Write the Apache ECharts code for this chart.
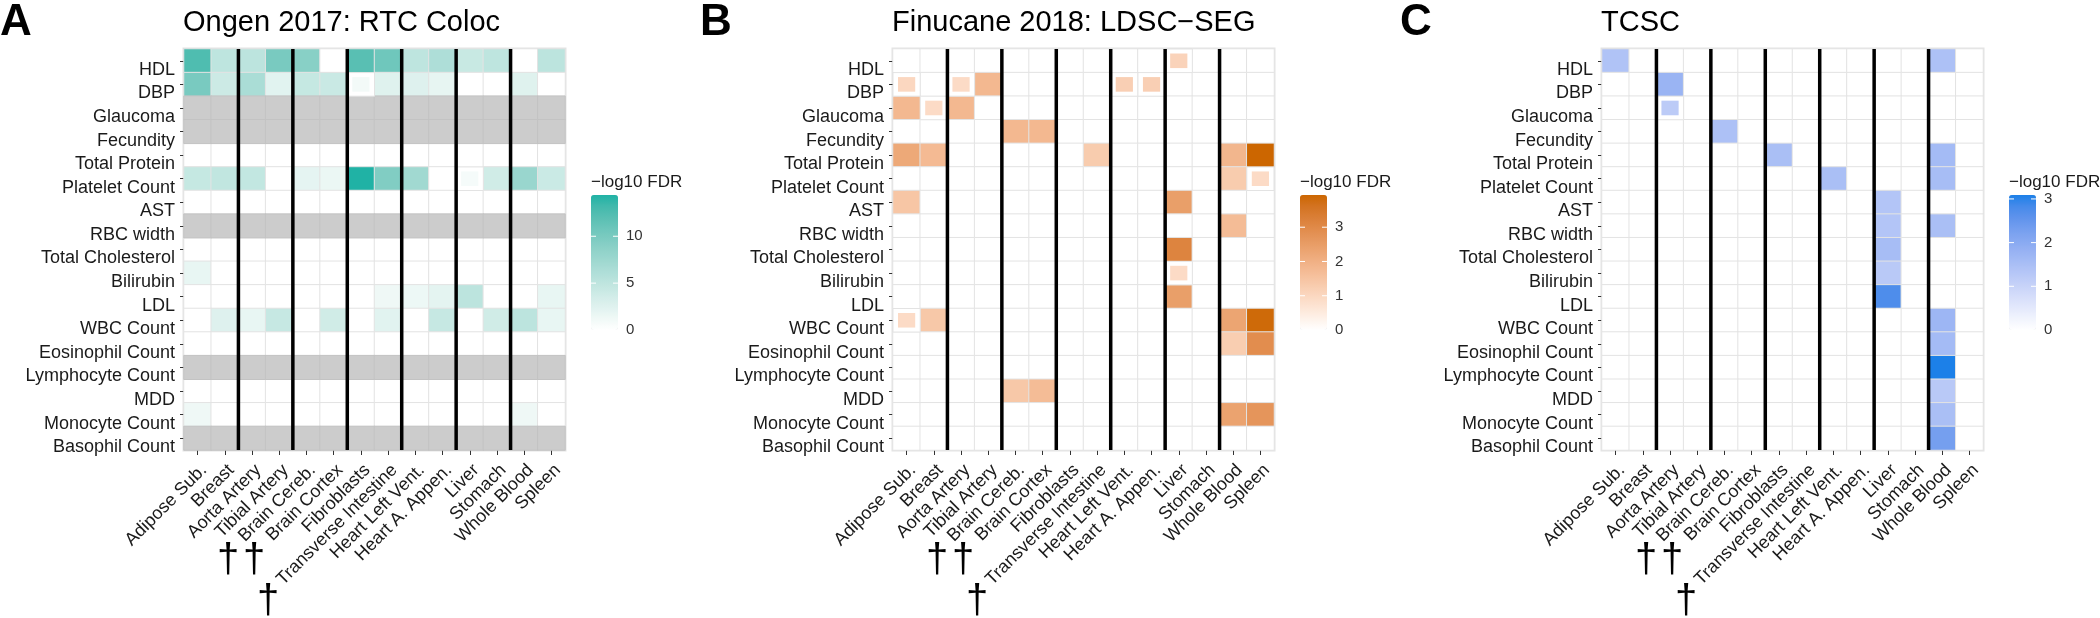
<!DOCTYPE html>
<html><head><meta charset="utf-8">
<script src="https://cdn.jsdelivr.net/npm/echarts@6/dist/echarts.min.js"></script>
<style>html,body{margin:0;padding:0;background:#fff}#c{width:2100px;height:618px}</style>
</head><body><div id="c"></div>
<script>
// ---------------- DATA ----------------
const tissues = ['Adipose Sub.','Breast','Aorta Artery','Tibial Artery','Brain Cereb.','Brain Cortex','Fibroblasts','Transverse Intestine','Heart Left Vent.','Heart A. Appen.','Liver','Stomach','Whole Blood','Spleen'];
const traits = ['HDL','DBP','Glaucoma','Fecundity','Total Protein','Platelet Count','AST','RBC width','Total Cholesterol','Bilirubin','LDL','WBC Count','Eosinophil Count','Lymphocyte Count','MDD','Monocyte Count','Basophil Count'];
const groupStarts = ['Aorta Artery','Brain Cereb.','Fibroblasts','Heart Left Vent.','Liver','Whole Blood'];
const N = null;
// Panel A: Ongen 2017 RTC Coloc (-log10 FDR), null = not available (grey)
const ongenRTC = [
  [12.5,5,5.2,10,9,0,12,10.7,5,6.2,4.3,5,0,5.2],      // HDL
  [10,4,6.5,2.3,4.5,4.2,1,2.5,2.6,1.9,0,0,2.5,0],      // DBP
  [N,N,N,N,N,N,N,N,N,N,N,N,N,N],                       // Glaucoma
  [N,N,N,N,N,N,N,N,N,N,N,N,N,N],                       // Fecundity
  [0,0,0,0,0,0,0,0,0,0,0,0,0,0],                       // Total Protein
  [4.5,4.8,4.7,0,2,1.6,14.4,9.5,7.2,0,0.8,3.7,7.8,4.1],// Platelet Count
  [0,0,0,0,0,0,0,0,0,0,0,0,0,0],                       // AST
  [N,N,N,N,N,N,N,N,N,N,N,N,N,N],                       // RBC width
  [0,0,0,0,0,0,0,0,0,0,0,0,0,0],                       // Total Cholesterol
  [1.8,0,0,0,0,0,0,0,0,0,0,0,0,0],                     // Bilirubin
  [0,0,0,0,0,0,0,1.3,1.4,2.1,5.2,0,0,1.8],             // LDL
  [0,2.6,1.8,4.4,0,3.7,0,2.3,0,4.4,0,3.7,5.2,1.8],     // WBC Count
  [0,0,0,0,0,0,0,0,0,0,0,0,0,0],                       // Eosinophil Count
  [N,N,N,N,N,N,N,N,N,N,N,N,N,N],                       // Lymphocyte Count
  [0,0,0,0,0,0,0,0,0,0,0,0,0,0],                       // MDD
  [1.3,0,0,0,0,0,0,0,0,0,0,0,1.3,0],                   // Monocyte Count
  [N,N,N,N,N,N,N,N,N,N,N,N,N,N]                        // Basophil Count
];
const ongenSmall = [['DBP','Fibroblasts'],['Platelet Count','Liver']];
// Panel B: Finucane 2018 LDSC-SEG
const finucaneLDSC = [
  [0,0,0,0,0,0,0,0,0,0,1.1,0,0,0],                     // HDL
  [1.0,0,0.9,1.8,0,0,0,0,1.2,1.2,0,0,0,0],             // DBP
  [1.8,0.9,1.8,0,0,0,0,0,0,0,0,0,0,0],                 // Glaucoma
  [0,0,0,0,1.8,1.8,0,0,0,0,0,0,0,0],                   // Fecundity
  [2.2,1.75,0,0,0,0,0,1.3,0,0,0,0,1.85,3.94],          // Total Protein
  [0,0,0,0,0,0,0,0,0,0,0,0,1.3,0.9],                   // Platelet Count
  [1.45,0,0,0,0,0,0,0,0,0,2.45,0,0,0],                 // AST
  [0,0,0,0,0,0,0,0,0,0,0,0,1.7,0],                     // RBC width
  [0,0,0,0,0,0,0,0,0,0,3.15,0,0,0],                    // Total Cholesterol
  [0,0,0,0,0,0,0,0,0,0,0.9,0,0,0],                     // Bilirubin
  [0,0,0,0,0,0,0,0,0,0,2.45,0,0,0],                    // LDL
  [0.9,1.4,0,0,0,0,0,0,0,0,0,0,2.3,3.85],              // WBC Count
  [0,0,0,0,0,0,0,0,0,0,0,0,1.25,2.9],                  // Eosinophil Count
  [0,0,0,0,0,0,0,0,0,0,0,0,0,0],                       // Lymphocyte Count
  [0,0,0,0,1.4,1.7,0,0,0,0,0,0,0,0],                   // MDD
  [0,0,0,0,0,0,0,0,0,0,0,0,2.35,2.7],                  // Monocyte Count
  [0,0,0,0,0,0,0,0,0,0,0,0,0,0]                        // Basophil Count
];
const finucaneSmall = [['HDL','Liver'],['DBP','Adipose Sub.'],['DBP','Aorta Artery'],['DBP','Heart Left Vent.'],['DBP','Heart A. Appen.'],['Glaucoma','Breast'],['Platelet Count','Spleen'],['Bilirubin','Liver'],['WBC Count','Adipose Sub.']];
// Panel C: TCSC
const tcsc = [
  [1.4,0,0,0,0,0,0,0,0,0,0,0,1.45,0],                  // HDL
  [0,0,1.75,0,0,0,0,0,0,0,0,0,0,0],                    // DBP
  [0,0,1.2,0,0,0,0,0,0,0,0,0,0,0],                     // Glaucoma
  [0,0,0,0,1.45,0,0,0,0,0,0,0,0,0],                    // Fecundity
  [0,0,0,0,0,0,1.5,0,0,0,0,0,1.6,0],                   // Total Protein
  [0,0,0,0,0,0,0,0,1.5,0,0,0,1.55,0],                  // Platelet Count
  [0,0,0,0,0,0,0,0,0,0,1.35,0,0,0],                    // AST
  [0,0,0,0,0,0,0,0,0,0,1.35,0,1.5,0],                  // RBC width
  [0,0,0,0,0,0,0,0,0,0,1.55,0,0,0],                    // Total Cholesterol
  [0,0,0,0,0,0,0,0,0,0,1.25,0,0,0],                    // Bilirubin
  [0,0,0,0,0,0,0,0,0,0,2.75,0,0,0],                    // LDL
  [0,0,0,0,0,0,0,0,0,0,0,0,1.7,0],                     // WBC Count
  [0,0,0,0,0,0,0,0,0,0,0,0,1.6,0],                     // Eosinophil Count
  [0,0,0,0,0,0,0,0,0,0,0,0,3.09,0],                    // Lymphocyte Count
  [0,0,0,0,0,0,0,0,0,0,0,0,1.25,0],                    // MDD
  [0,0,0,0,0,0,0,0,0,0,0,0,1.5,0],                     // Monocyte Count
  [0,0,0,0,0,0,0,0,0,0,0,0,2.3,0]                      // Basophil Count
];
const tcscSmall = [['Glaucoma','Aorta Artery']];
const ticksA = [0,5,10];
const ticksB = [0,1,2,3];
const ticksC = [0,1,2,3];
const legendTitle = '\u2212log10 FDR';

// ---------------- STYLE / LAYOUT ----------------
const FONT = '"Liberation Sans", Arial, Helvetica, sans-serif';
const panels = [
  {letter:'A', title:'Ongen 2017: RTC Coloc', data:ongenRTC, small:ongenSmall, high:'#20b2a5', ticks:ticksA, gridLeft:184, letterX:0},
  {letter:'B', title:'Finucane 2018: LDSC\u2212SEG', data:finucaneLDSC, small:finucaneSmall, high:'#cc6600', ticks:ticksB, gridLeft:893, letterX:700},
  {letter:'C', title:'TCSC', data:tcsc, small:tcscSmall, high:'#1c80e8', ticks:ticksC, gridLeft:1602, letterX:1400}
];
const GRID_TOP = 49, GRID_W = 381, GRID_H = 401;
const BAR_TOP = 195, BAR_W = 27, BAR_H = 135;

// Lab interpolation (like ggplot's gradient)
function hex2rgb(h){return [parseInt(h.slice(1,3),16),parseInt(h.slice(3,5),16),parseInt(h.slice(5,7),16)];}
function s2l(c){c/=255;return c<=0.04045?c/12.92:Math.pow((c+0.055)/1.055,2.4);}
function l2s(c){c=c<=0.0031308?12.92*c:1.055*Math.pow(c,1/2.4)-0.055;return Math.round(Math.max(0,Math.min(1,c))*255);}
function rgb2lab(rgb){const r=s2l(rgb[0]),g=s2l(rgb[1]),b=s2l(rgb[2]);
  const x=(0.4124564*r+0.3575761*g+0.1804375*b)/0.95047,y=0.2126729*r+0.7151522*g+0.0721750*b,z=(0.0193339*r+0.1191920*g+0.9503041*b)/1.08883;
  const f=t=>t>0.008856?Math.cbrt(t):7.787*t+16/116;const fx=f(x),fy=f(y),fz=f(z);
  return [116*fy-16,500*(fx-fy),200*(fy-fz)];}
function lab2rgb(lab){const fy=(lab[0]+16)/116,fx=fy+lab[1]/500,fz=fy-lab[2]/200;
  const fi=t=>t*t*t>0.008856?t*t*t:(t-16/116)/7.787;
  const x=fi(fx)*0.95047,y=fi(fy),z=fi(fz)*1.08883;
  const r=3.2404542*x-1.5371385*y-0.4985314*z,g=-0.9692660*x+1.8760108*y+0.0415560*z,b=0.0556434*x-0.2040259*y+1.0572252*z;
  return 'rgb('+l2s(r)+','+l2s(g)+','+l2s(b)+')';}
function labRamp(hex,n){const a=rgb2lab([255,255,255]),b=rgb2lab(hex2rgb(hex));const out=[];
  for(let i=0;i<n;i++){const t=i/(n-1);out.push(lab2rgb([a[0]+(b[0]-a[0])*t,a[1]+(b[1]-a[1])*t,a[2]+(b[2]-a[2])*t]));}return out;}

const chart = echarts.init(document.getElementById('c'), null, {renderer:'canvas'});
const grids=[], xAxes=[], yAxes=[], series=[], visualMaps=[], graphics=[];

panels.forEach((p,i)=>{
  const smallKey = new Set(p.small.map(s=>s[0]+'|'+s[1]));
  const main=[], na=[], sm=[];
  let max=0;
  p.data.forEach((row,r)=>row.forEach((v,c)=>{
    if(v===null){na.push([c,r,0]);return;}
    if(v>max)max=v;
    if(smallKey.has(traits[r]+'|'+tissues[c])) sm.push([c,r,v]); else main.push([c,r,v]);
  }));
  grids.push({left:p.gridLeft, top:GRID_TOP, width:GRID_W, height:GRID_H, show:true, borderColor:'#e4e4e4', borderWidth:3, backgroundColor:'#fff', containLabel:false});
  xAxes.push({type:'category', gridIndex:i, data:tissues, position:'bottom',
    axisLine:{show:false}, splitLine:{show:false},
    axisTick:{show:true, alignWithLabel:true, length:5, lineStyle:{color:'#333', width:1}},
    axisLabel:{interval:0, rotate:45, fontSize:18, color:'#1a1a1a', fontFamily:FONT, margin:11, align:'right', verticalAlign:'top'}});
  yAxes.push({type:'category', gridIndex:i, data:traits, inverse:true,
    axisLine:{show:false}, splitLine:{show:false},
    axisTick:{show:true, alignWithLabel:true, length:4, lineStyle:{color:'#333', width:1}},
    axisLabel:{interval:0, fontSize:18, color:'#1a1a1a', fontFamily:FONT, margin:9, verticalAlign:'top'}});
  const base = series.length;
  series.push({type:'heatmap', xAxisIndex:i, yAxisIndex:i, data:main, progressive:0, z:2,
    itemStyle:{borderColor:'#e3e3e3', borderWidth:1}, emphasis:{disabled:true}});
  series.push({type:'heatmap', xAxisIndex:i, yAxisIndex:i, data:na, progressive:0, z:2,
    itemStyle:{color:'#cccccc', borderColor:'#c3c3c3', borderWidth:1}, emphasis:{disabled:true}});
  series.push({type:'custom', xAxisIndex:i, yAxisIndex:i, data:sm, z:3, encode:{x:0,y:1},
    renderItem:function(params,api){
      const c=api.coord([api.value(0),api.value(1)]), s=api.size([1,1]);
      const x0=c[0]-s[0]/2, y0=c[1]-s[1]/2;
      return {type:'group', children:[
        {type:'rect', shape:{x:x0,y:y0,width:s[0],height:s[1]}, style:{fill:'#fff', stroke:'#e3e3e3', lineWidth:1}},
        {type:'rect', shape:{x:x0+5,y:y0+4.5,width:s[0]-10,height:s[1]-9}, style:{fill:api.visual('color')}}
      ]};
    }});
  series.push({type:'custom', xAxisIndex:i, yAxisIndex:i, data:groupStarts.map(t=>[tissues.indexOf(t),0]), z:5, encode:{x:0,y:1}, silent:true,
    renderItem:function(params,api){
      const x=api.coord([api.value(0),0])[0]-api.size([1,0])[0]/2;
      const cs=params.coordSys;
      return {type:'line', shape:{x1:x,y1:cs.y,x2:x,y2:cs.y+cs.height}, style:{stroke:'#000', lineWidth:3.5}};
    }});
  const legLeft = p.gridLeft + 407;
  visualMaps.push({type:'continuous', seriesIndex:[base, base+2], dimension:2, min:0, max:max,
    inRange:{color:labRamp(p.high, 13)}, calculable:false, show:true, left:legLeft, top:BAR_TOP,
    itemWidth:BAR_W, itemHeight:BAR_H, padding:0, text:null});
  // legend title & ticks
  graphics.push({type:'text', left:legLeft, top:174, style:{text:legendTitle, font:'17px '+FONT, fill:'#1a1a1a'}});
  p.ticks.forEach(v=>{
    const y = BAR_TOP + BAR_H*(1 - v/max);
    graphics.push({type:'text', x:legLeft+BAR_W+8, y:y, style:{text:String(v), font:'15px '+FONT, fill:'#333', textVerticalAlign:'middle'}});
    graphics.push({type:'line', shape:{x1:legLeft, y1:y, x2:legLeft+5, y2:y}, style:{stroke:'#fff', lineWidth:1}, z:100});
    graphics.push({type:'line', shape:{x1:legLeft+BAR_W-5, y1:y, x2:legLeft+BAR_W, y2:y}, style:{stroke:'#fff', lineWidth:1}, z:100});
  });
  // panel letter & title
  graphics.push({type:'text', x:p.letterX, y:23, style:{text:p.letter, font:'bold 44px '+FONT, fill:'#000', textVerticalAlign:'middle'}});
  graphics.push({type:'text', x:p.gridLeft-1, y:23, style:{text:p.title, font:'29px '+FONT, fill:'#000', textVerticalAlign:'middle'}});
  // daggers
  [[44,561],[70,561],[84,602]].forEach(d=>{
    graphics.push({type:'text', x:p.gridLeft+d[0], y:d[1], style:{text:'\u2020', font:'40px '+FONT, fill:'#000', textAlign:'center', textVerticalAlign:'middle'}});
  });
});

chart.setOption({
  animation:false,
  backgroundColor:'#fff',
  grid:grids, xAxis:xAxes, yAxis:yAxes, series:series, visualMap:visualMaps,
  graphic:{elements:graphics}
});
</script></body></html>
